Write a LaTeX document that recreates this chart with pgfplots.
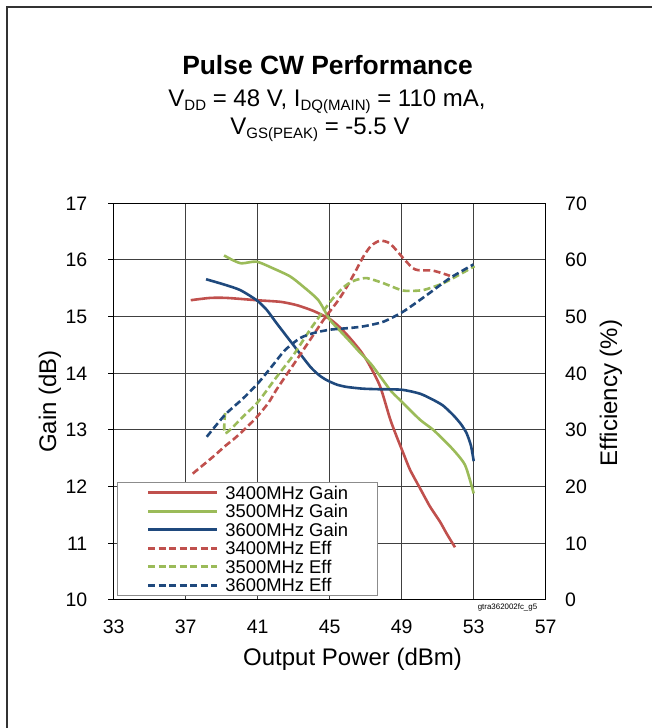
\documentclass[border=0pt]{standalone}
\usepackage{pgfplots}
\pgfplotsset{compat=1.18}
\usepackage{fontspec}
\setmainfont{Liberation Sans}
\definecolor{cred}{HTML}{C0504D}
\definecolor{cgreen}{HTML}{9BBB59}
\definecolor{cblue}{HTML}{1F497D}
\newcommand{\sub}[1]{\raisebox{-4bp}{\fontsize{15bp}{16bp}\selectfont #1}}
\tikzset{gl/.style={line width=2.6bp, smooth, tension=0.4, line join=round},
         dl/.style={gl, dash pattern=on 7bp off 3.5bp}}
\begin{document}
\begin{tikzpicture}
\path[use as bounding box] (0,0) rectangle (652bp,728bp);
\draw[line width=2bp, black!80] (7bp,0) -- (7bp,721bp) -- (652bp,721bp);
\node[anchor=base, font=\bfseries\fontsize{26.4bp}{28bp}\selectfont] at (327.5bp,653bp) {Pulse CW Performance};
\node[anchor=base, font=\fontsize{24bp}{26bp}\selectfont] at (327bp,621.3bp) {V\sub{DD} = 48 V, I\sub{DQ(MAIN)} = 110 mA,};
\node[anchor=base, font=\fontsize{24bp}{26bp}\selectfont] at (320bp,593bp) {V\sub{GS(PEAK)} = -5.5 V};
\node[anchor=base, font=\fontsize{24bp}{26bp}\selectfont] at (352.5bp,62bp) {Output Power (dBm)};
\node[anchor=base, rotate=90, font=\fontsize{24bp}{26bp}\selectfont] at (56bp,326.5bp) {Gain (dB)};
\node[anchor=base, rotate=90, font=\fontsize{24bp}{26bp}\selectfont] at (617bp,335bp) {Efficiency (\%)};
\node[anchor=base, inner sep=0pt, font=\fontsize{7.9bp}{8bp}\selectfont] at (507.5bp,118.5bp) {gtra362002fc\_g5};

\begin{axis}[
  at={(113.7bp,128bp)}, anchor=south west,
  scale only axis, width=432bp, height=396.7bp,
  xmin=33, xmax=57, ymin=10, ymax=17,
  xtick={33,37,...,57}, ytick={10,...,17},
  grid=major, grid style={black!75, line width=1bp},
  axis line style={black, line width=1bp},
  tick align=outside, major tick length=5.7bp,
  xtick style={draw=none},
  ytick style={black, line width=1bp},
  ticklabel style={font=\fontsize{19.5bp}{20bp}\selectfont, inner sep=0pt},
  /pgf/number format/assume math mode=true,
  xticklabel style={yshift=-14bp},
  yticklabel style={xshift=-20.5bp},
  ytick pos=left, xtick pos=bottom,
]
\addplot[cred, gl] coordinates {(37.28,15.29) (38.35,15.33) (39.3,15.33) (40.94,15.29) (42.3,15.26) (43.2,15.2) (44.1,15.1) (45.0,14.96) (45.6,14.8) (46.13,14.62) (46.7,14.4) (47.15,14.18) (47.8,13.77) (48.35,13.2) (48.7,12.9) (49.09,12.59) (49.46,12.30) (50.02,11.97) (50.57,11.65) (51.13,11.38) (51.5,11.17) (51.96,10.93)};
\addplot[cgreen, gl] coordinates {(39.13,16.08) (39.6,16.0) (40.1,15.94) (40.94,15.97) (41.87,15.85) (42.8,15.71) (43.53,15.53) (44.37,15.29) (45.02,14.94) (45.6,14.74) (46.13,14.56) (46.7,14.36) (47.33,14.15) (48.35,13.71) (48.9,13.53) (50.02,13.18) (50.76,13.0) (51.78,12.68) (52.52,12.38) (53.0,11.88)};
\addplot[cblue, gl] coordinates {(38.13,15.66) (39.1,15.57) (40.02,15.47) (40.94,15.29) (41.5,15.12) (42.06,14.88) (42.98,14.5) (43.91,14.12) (44.4,13.97) (44.83,13.88) (45.4,13.8) (45.94,13.76) (46.8,13.73) (47.61,13.72) (49.0,13.71) (50.02,13.64) (50.76,13.53) (51.3,13.43) (51.87,13.26) (52.3,13.1) (52.61,12.94) (52.85,12.72) (53.0,12.45)};
\end{axis}

\begin{axis}[
  at={(113.7bp,128bp)}, anchor=south west,
  scale only axis, width=432bp, height=396.7bp,
  xmin=33, xmax=57, ymin=0, ymax=70,
  ytick={0,10,...,70},
  axis x line=none, axis y line*=right,
  axis line style={black, line width=1bp},
  ytick style={draw=none},
  ticklabel style={font=\fontsize{19.5bp}{20bp}\selectfont, inner sep=0pt},
  /pgf/number format/assume math mode=true,
  yticklabel style={xshift=19.3bp},
  legend cell align=left,
  legend image code/.code={\draw[#1] (0bp,0bp) -- (69bp,0bp);},
  legend style={at={(0.0083,0.0101)}, anchor=south west, draw=black!45, line width=1bp, fill=white,
    inner xsep=29bp, inner ysep=1bp, row sep=0pt, column sep=7bp,
    font=\fontsize{18.4bp}{18.5bp}\selectfont,
    nodes={inner sep=0pt, text height=15.8bp, text depth=2.7bp}},
]
\addlegendimage{cred, gl}\addlegendentry{3400MHz Gain}
\addlegendimage{cgreen, gl}\addlegendentry{3500MHz Gain}
\addlegendimage{cblue, gl}\addlegendentry{3600MHz Gain}
\addplot[cred, dl] coordinates {(37.39,22.3) (38.53,25.3) (39.24,27.3) (39.64,28.3) (40.2,29.9) (40.9,32.1) (41.6,34.8) (42.06,37.2) (42.98,41.5) (43.91,45.9) (44.65,49.4) (45.48,52.9) (45.94,55.2) (46.4,57.8) (46.87,60.6) (47.3,62.5) (47.8,63.4) (48.35,62.9) (49.09,60.3) (49.6,58.6) (49.92,58.2) (50.76,58.1) (51.68,57.2)};
\addlegendentry{3400MHz Eff}
\addplot[cgreen, dl] coordinates {(39.19,33.0) (39.19,29.4) (40.2,32.4) (41.03,35.0) (42.06,39.4) (42.98,43.2) (43.91,47.7) (44.65,51.0) (45.2,53.3) (45.85,55.4) (46.4,56.4) (47.06,56.8) (47.98,55.9) (49.09,54.6) (50.2,54.7) (51.31,55.9) (52.2,57.4) (53.05,58.9)};
\addlegendentry{3500MHz Eff}
\addplot[cblue, dl] coordinates {(38.17,28.8) (39.19,32.7) (40.2,35.6) (41.03,38.3) (41.78,41.2) (42.52,44.1) (43.35,46.2) (44.09,47.1) (45.02,47.7) (46.13,48.0) (46.9,48.3) (47.98,49.1) (49.09,50.9) (50.39,53.8) (51.68,56.8) (52.98,59.2)};
\addlegendentry{3600MHz Eff}
\end{axis}
\end{tikzpicture}
\end{document}
